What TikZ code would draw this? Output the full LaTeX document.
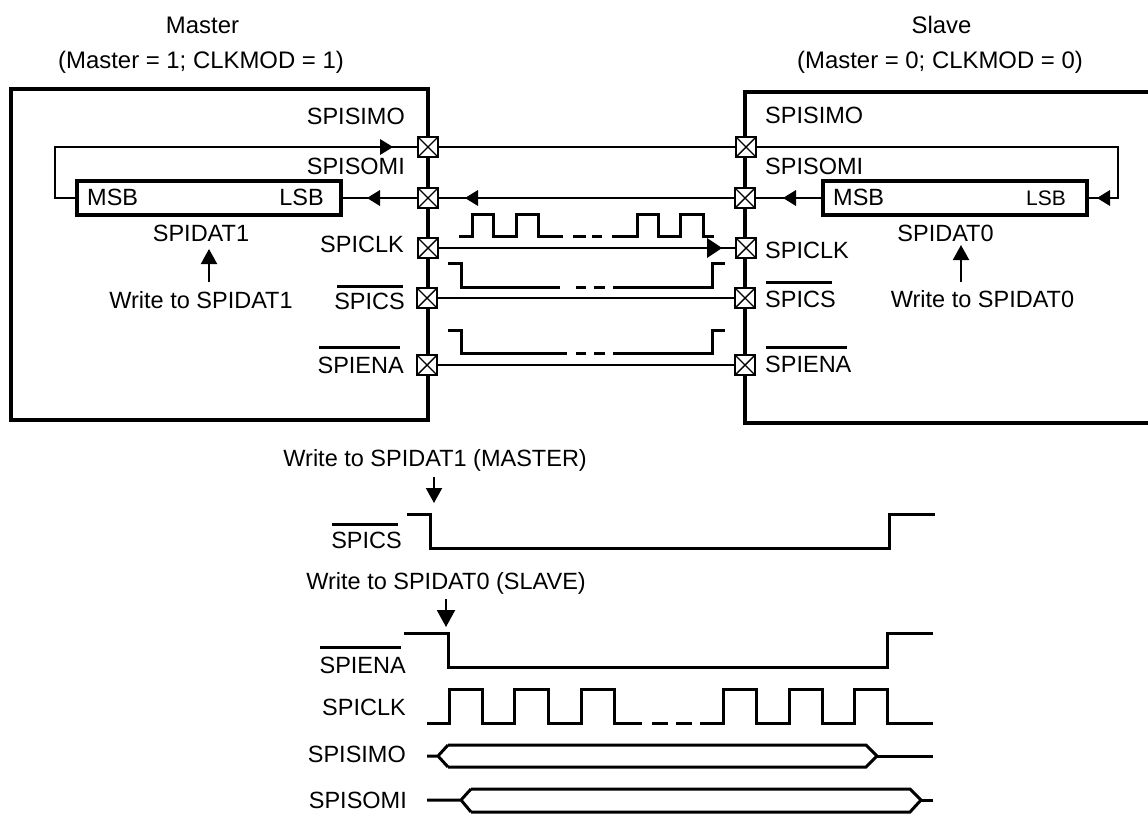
\documentclass[tikz,border=0pt]{standalone}
\usepackage{fontspec}
\setmainfont{Liberation Sans}
\usetikzlibrary{arrows.meta}
\tikzset{
  lbl/.style={inner sep=0pt,font=\fontsize{23.5}{28}\selectfont},
  lr/.style={lbl,anchor=base east},
  ll/.style={lbl,anchor=base west},
  lc/.style={lbl,anchor=base},
  hd/.style={lc,font=\fontsize{23.9}{28}\selectfont},
  frame/.style={line width=4pt,line join=miter},
  regbox/.style={draw,line width=4pt,fill=white,minimum width=264pt,minimum height=34pt,inner sep=0pt},
  pin/.style={draw,line width=2.2pt,fill=white,minimum width=20pt,minimum height=20pt,inner sep=0pt,outer sep=0pt,
    path picture={\draw[line width=1.4pt] (path picture bounding box.north west)--(path picture bounding box.south east)
      (path picture bounding box.north east)--(path picture bounding box.south west);}},
  wire/.style={line width=2pt},
  wave/.style={line width=3pt,line join=miter},
  bar/.style={line width=3pt},
  wr/.style={line width=2pt,-{Triangle[length=15pt,width=16pt]}},
}
\newcommand{\rtip}[2]{\fill (#1,#2) -- ++(-13,-8) -- ++(0,16) -- cycle;}
\newcommand{\ltip}[2]{\fill (#1,#2) -- ++(13,-8) -- ++(0,16) -- cycle;}
\begin{document}
\begin{tikzpicture}[x=1pt,y=-1pt]
\useasboundingbox (0,0) rectangle (1148,814);
% frames
\draw[frame] (11,89) rectangle (428,420);
\draw[frame] (1148,92) -- (745,92) -- (745,423) -- (1148,423);
% registers
\node[regbox] (regL) at (209,198) {};
\node[regbox] (regR) at (954.5,198) {};
% pins
\node[pin] (pl1) at (428,147) {};
\node[pin] (pl2) at (428,198) {};
\node[pin] (pl3) at (428,248) {};
\node[pin] (pl4) at (427,298) {};
\node[pin] (pl5) at (427,365) {};
\node[pin] (pr1) at (746,147) {};
\node[pin] (pr2) at (745,198) {};
\node[pin] (pr3) at (746,248) {};
\node[pin] (pr4) at (745,298) {};
\node[pin] (pr5) at (745,365) {};
% connectors
\draw[wire] (pl1) -- (pr1);
\draw[wire] (pl2) -- (pr2);
\draw[wire] (pl3) -- (pr3);
\draw[wire] (pl4) -- (pr4);
\draw[wire] (pl5) -- (pr5);
\coordinate (loopL) at (55,198);
\coordinate (loopR) at (1118,147);
\draw[wire] (regL.west) -- (loopL) |- (pl1.west);
\draw[wire] (pl2.west) -- (regL.east);
\draw[wire] (regR.west) -- (pr2.east);
\draw[wire] (pr1.east) -- (loopR) |- (regR.east);
% inline arrowheads
\rtip{393}{147}
\ltip{367}{198}
\ltip{465}{198}
\ltip{783}{198}
\ltip{1097}{198}
\fill (722,248) -- ++(-15,-10) -- ++(0,20) -- cycle;
% labels master
\node[lr] (a1) at (405,124) {SPISIMO};
\node[lr] (a2) at (405,174) {SPISOMI};
\node[ll] (a3) at (87,205) {MSB};
\node[lr] (a4) at (324,205) {LSB};
\node[lc] (a5) at (201,241) {SPIDAT1};
\node[lc] (a6) at (201,308) {Write to SPIDAT1};
\node[lr] (a7) at (404,252) {SPICLK};
\node[lr] (a8) at (405,309) {SPICS};
\node[lr] (a9) at (404,373) {SPIENA};
% labels slave
\node[ll] (b1) at (765,123) {SPISIMO};
\node[ll] (b2) at (765,174) {SPISOMI};
\node[ll] (b3) at (833,205) {MSB};
\node[lr,font=\fontsize{21}{26}\selectfont] (b4) at (1066,205) {LSB};
\node[lc] (b5) at (945.5,241) {SPIDAT0};
\node[lc] (b6) at (982.5,307) {Write to SPIDAT0};
\node[ll] (b7) at (765,258) {SPICLK};
\node[ll] (b8) at (765,307) {SPICS};
\node[ll] (b9) at (765,372) {SPIENA};
% headings
\node[hd] (h1) at (202.5,33) {Master};
\node[hd] (h2) at (201,68) {(Master = 1; CLKMOD = 1)};
\node[hd] (h3) at (941.5,33) {Slave};
\node[hd] (h4) at (940,68) {(Master = 0; CLKMOD = 0)};
% overbars
\draw[bar] (337,286) -- (403,286);
\draw[bar] (319,347) -- (400,347);
\draw[bar] (766,282) -- (832,282);
\draw[bar] (766,347) -- (847,347);
\draw[bar] (332,524) -- (398,524);
\draw[bar] (320,647) -- (401,647);
% write arrows
\coordinate (w1s) at (209,282); \coordinate (w1e) at (209,249);
\coordinate (w2s) at (961,282); \coordinate (w2e) at (961,245);
\coordinate (w3s) at (434,477); \coordinate (w3e) at (434,503);
\coordinate (w4s) at (446,599); \coordinate (w4e) at (446,627);
\draw[wr] (w1s) -- (w1e);
\draw[wr] (w2s) -- (w2e);
\draw[wr] (w3s) -- (w3e);
\draw[wr,-{Triangle[length=17pt,width=18pt]}] (w4s) -- (w4e);
% waveforms between devices
\draw[wave] (459,236) -- (472,236) -- (472,214) -- (493,214) -- (493,236) -- (516,236) -- (516,214) -- (538,214) -- (538,236) -- (563,236);
\draw[wave] (573,236) -- (586,236) (592,236) -- (602,236);
\draw[wave] (612,236) -- (637,236) -- (637,214) -- (658,214) -- (658,236) -- (680,236) -- (680,214) -- (703,214) -- (703,236) -- (714,236);
\draw[wave] (448,263) -- (461,263) -- (461,287) -- (560,287);
\draw[wave] (576,287) -- (586,287) (594,287) -- (605,287);
\draw[wave] (613,287) -- (712,287) -- (712,263) -- (725,263);
\draw[wave] (448,330) -- (461,330) -- (461,353) -- (567,353);
\draw[wave] (576,353) -- (586,353) (594,353) -- (605,353);
\draw[wave] (613,353) -- (712,353) -- (712,330) -- (725,330);
% lower timing labels
\node[lr] (c1) at (587,466) {Write to SPIDAT1 (MASTER)};
\node[lr] (c2) at (402,548) {SPICS};
\node[lr] (c3) at (586,589) {Write to SPIDAT0 (SLAVE)};
\node[lr] (c4) at (406,673) {SPIENA};
\node[lr] (c5) at (406,715) {SPICLK};
\node[lr] (c6) at (406,762) {SPISIMO};
\node[lr] (c7) at (407,808.5) {SPISOMI};
% lower timing waves
\draw[wave] (407,514) -- (430,514) -- (430,548) -- (889,548) -- (889,514) -- (935,514);
\draw[wave] (404,633) -- (448,633) -- (448,667) -- (887,667) -- (887,633) -- (933,633);
\draw[wave] (427,723) -- (449,723) -- (449,689) -- (482,689) -- (482,723) -- (514,723) -- (514,689) -- (548,689) -- (548,723) -- (581,723) -- (581,689) -- (614,689) -- (614,723) -- (642,723);
\draw[wave] (652,723) -- (668,723) (676,723) -- (692,723);
\draw[wave] (700,723) -- (723,723) -- (723,689) -- (756,689) -- (756,723) -- (789,723) -- (789,689) -- (822,689) -- (822,723) -- (854,723) -- (854,689) -- (887,689) -- (887,723) -- (933,723);
\draw[wave] (427,756) -- (438,756) (448,745) -- (438,756) -- (448,767);
\draw[wave] (448,745) -- (866,745) -- (877,756) -- (866,767) -- (448,767);
\draw[wave] (877,756) -- (933,756);
\draw[wave] (427,800) -- (461,800) (471,789) -- (461,800) -- (471,812);
\draw[wave] (471,789) -- (910,789) -- (921,800) -- (910,812) -- (471,812);
\draw[wave] (921,800) -- (933,800);
\end{tikzpicture}
\end{document}
